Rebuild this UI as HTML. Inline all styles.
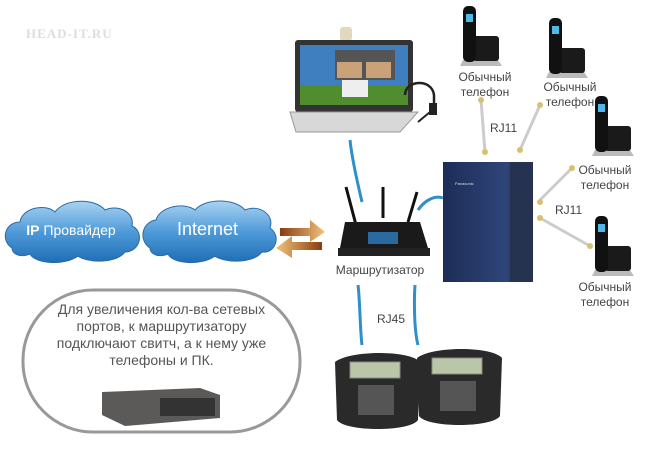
<!DOCTYPE html>
<html><head><meta charset="utf-8"><style>
body{margin:0;width:650px;height:450px;background:#fff;position:relative;overflow:hidden;font-family:"Liberation Sans","DejaVu Sans",sans-serif}
.a{position:absolute}
.lbl{position:absolute;color:#444;font-size:12px;text-align:center;line-height:15px}
</style></head><body>
<div class="a" style="left:26px;top:26px;color:#ddd;font:bold 13px 'Liberation Serif',serif;letter-spacing:1px">HEAD-IT.RU</div>
<svg class="a" style="left:0;top:0" width="650" height="450">
<defs>
<linearGradient id="cl" x1="0" y1="0" x2="0" y2="1"><stop offset="0" stop-color="#a9d3f2"/><stop offset=".5" stop-color="#4f9bd9"/><stop offset="1" stop-color="#1f6db5"/></linearGradient>
<linearGradient id="ar" x1="0" y1="0" x2="1" y2="0"><stop offset="0" stop-color="#8a3c10"/><stop offset="1" stop-color="#f2c47a"/></linearGradient>
<linearGradient id="ar2" x1="1" y1="0" x2="0" y2="0"><stop offset="0" stop-color="#8a3c10"/><stop offset="1" stop-color="#f2c47a"/></linearGradient>
<linearGradient id="pbx" x1="0" y1="0" x2="1" y2="0"><stop offset="0" stop-color="#1c2c55"/><stop offset=".7" stop-color="#2f4579"/><stop offset="1" stop-color="#1a2540"/></linearGradient>
</defs>
<g fill="url(#cl)" stroke="#2a6aa8" stroke-width="1">
<path d="M12,248 C0,240 5,222 20,222 C22,208 45,203 55,212 C65,198 95,198 105,210 C118,204 135,212 132,226 C145,232 140,252 125,252 C115,265 85,262 78,256 C65,266 35,264 30,254 C20,258 12,254 12,248Z"/>
<path d="M150,248 C138,240 142,222 156,220 C160,206 185,202 195,210 C205,198 235,198 245,210 C258,204 275,214 270,228 C282,236 275,254 262,252 C252,265 222,262 215,256 C202,266 172,264 168,254 C158,258 150,254 150,248Z"/>
</g>
<path d="M280,228 L310,228 L310,220 L325,232 L310,242 L310,236 L280,236Z" fill="url(#ar)"/>
<path d="M322,242 L292,242 L292,236 L276,248 L292,258 L292,250 L322,250Z" fill="url(#ar2)"/>
<g stroke="#2e8fc9" stroke-width="3" fill="none">
<path d="M350,140 C352,160 358,185 362,202"/>
<path d="M418,210 C425,200 435,195 443,198"/>
<path d="M358,285 C360,300 360,330 362,345"/>
<path d="M415,285 C414,300 414,330 418,345"/>
</g>
<g stroke="#ccc" stroke-width="3" fill="none">
<path d="M481,100 L485,152"/><path d="M540,105 L520,150"/>
<path d="M572,168 L540,200"/><path d="M540,218 L590,246"/>
</g>
<g fill="#d8c070"><circle cx="481" cy="100" r="3"/><circle cx="485" cy="152" r="3"/><circle cx="540" cy="105" r="3"/><circle cx="520" cy="150" r="3"/><circle cx="572" cy="168" r="3"/><circle cx="540" cy="202" r="3"/><circle cx="540" cy="218" r="3"/><circle cx="590" cy="246" r="3"/></g>
<rect x="340" y="27" width="12" height="14" rx="3" fill="#e2d8c0"/>
<rect x="295" y="40" width="118" height="72" rx="3" fill="#333"/>
<rect x="300" y="45" width="108" height="60" fill="#3f7fc0"/>
<rect x="300" y="85" width="108" height="20" fill="#4f8d2f"/>
<rect x="335" y="50" width="60" height="30" fill="#555"/>
<rect x="337" y="62" width="25" height="16" fill="#c9a27a"/><rect x="366" y="62" width="25" height="16" fill="#c9a27a"/>
<rect x="342" y="80" width="26" height="17" fill="#eee"/>
<path d="M290,112 L418,112 L400,132 L296,132Z" fill="#d8d8d8" stroke="#999"/>
<path d="M405,95 C405,80 432,78 434,95 L434,110" stroke="#222" stroke-width="2.5" fill="none"/>
<rect x="429" y="103" width="8" height="12" fill="#222"/><path d="M418,122 L430,112" stroke="#222" stroke-width="2"/>
<line x1="346" y1="187" x2="356" y2="225" stroke="#111" stroke-width="3"/>
<line x1="383" y1="187" x2="383" y2="218" stroke="#111" stroke-width="3"/>
<line x1="417" y1="192" x2="408" y2="222" stroke="#111" stroke-width="3"/>
<path d="M345,222 L420,222 L428,248 L340,248Z" fill="#1a1a1a"/>
<rect x="338" y="248" width="92" height="8" fill="#222"/>
<rect x="368" y="232" width="30" height="12" fill="#2a6aa0"/>
<rect x="443" y="162" width="90" height="120" fill="url(#pbx)"/>
<rect x="510" y="162" width="23" height="120" fill="#253250"/>
<text x="455" y="185" fill="#ddd" font-size="4">Panasonic</text>
<g id="ph"><path d="M463,60 L498,60 L502,66 L460,66Z" fill="#bbb"/><rect x="473" y="36" width="26" height="25" rx="3" fill="#1a1a1a"/><rect x="463" y="6" width="13" height="56" rx="5" fill="#111"/><rect x="466" y="14" width="7" height="8" fill="#4fb8e8"/></g>
<use href="#ph" x="86" y="12"/><use href="#ph" x="132" y="90"/><use href="#ph" x="132" y="210"/>
<rect x="23" y="290" width="277" height="142" rx="70" fill="#fff" stroke="#999" stroke-width="3"/>
<path d="M102,392 L200,388 L220,395 L220,418 L125,426 L102,415Z" fill="#5c5a58"/>
<rect x="160" y="398" width="55" height="18" fill="#333"/>
<g id="ip"><path d="M335,362 C350,350 410,350 420,362 L418,420 C410,432 345,432 337,420Z" fill="#2a2a2a"/><rect x="350" y="362" width="50" height="16" fill="#b9c7a8" stroke="#888"/><rect x="358" y="385" width="36" height="30" fill="#555"/></g>
<use href="#ip" x="82" y="-4"/>
</svg>
<div class="a" style="left:0;top:222px;width:142px;text-align:center;color:#fff;font-size:14px"><b>IP</b> Провайдер</div>
<div class="a" style="left:140px;top:219px;width:135px;text-align:center;color:#fff;font-size:18px">Internet</div>
<div class="lbl" style="left:330px;top:263px;width:100px">Маршрутизатор</div>
<div class="lbl" style="left:450px;top:70px;width:70px">Обычный<br>телефон</div>
<div class="lbl" style="left:535px;top:80px;width:70px">Обычный<br>телефон</div>
<div class="lbl" style="left:570px;top:163px;width:70px">Обычный<br>телефон</div>
<div class="lbl" style="left:570px;top:280px;width:70px">Обычный<br>телефон</div>
<div class="lbl" style="left:490px;top:121px">RJ11</div>
<div class="lbl" style="left:555px;top:203px">RJ11</div>
<div class="lbl" style="left:377px;top:312px">RJ45</div>
<div class="a" style="left:23px;top:301px;width:277px;text-align:center;color:#555;font-size:14px;line-height:17px;white-space:nowrap">Для увеличения кол-ва сетевых<br>портов, к маршрутизатору<br>подключают свитч, а к нему уже<br>телефоны и ПК.</div>
</body></html>
